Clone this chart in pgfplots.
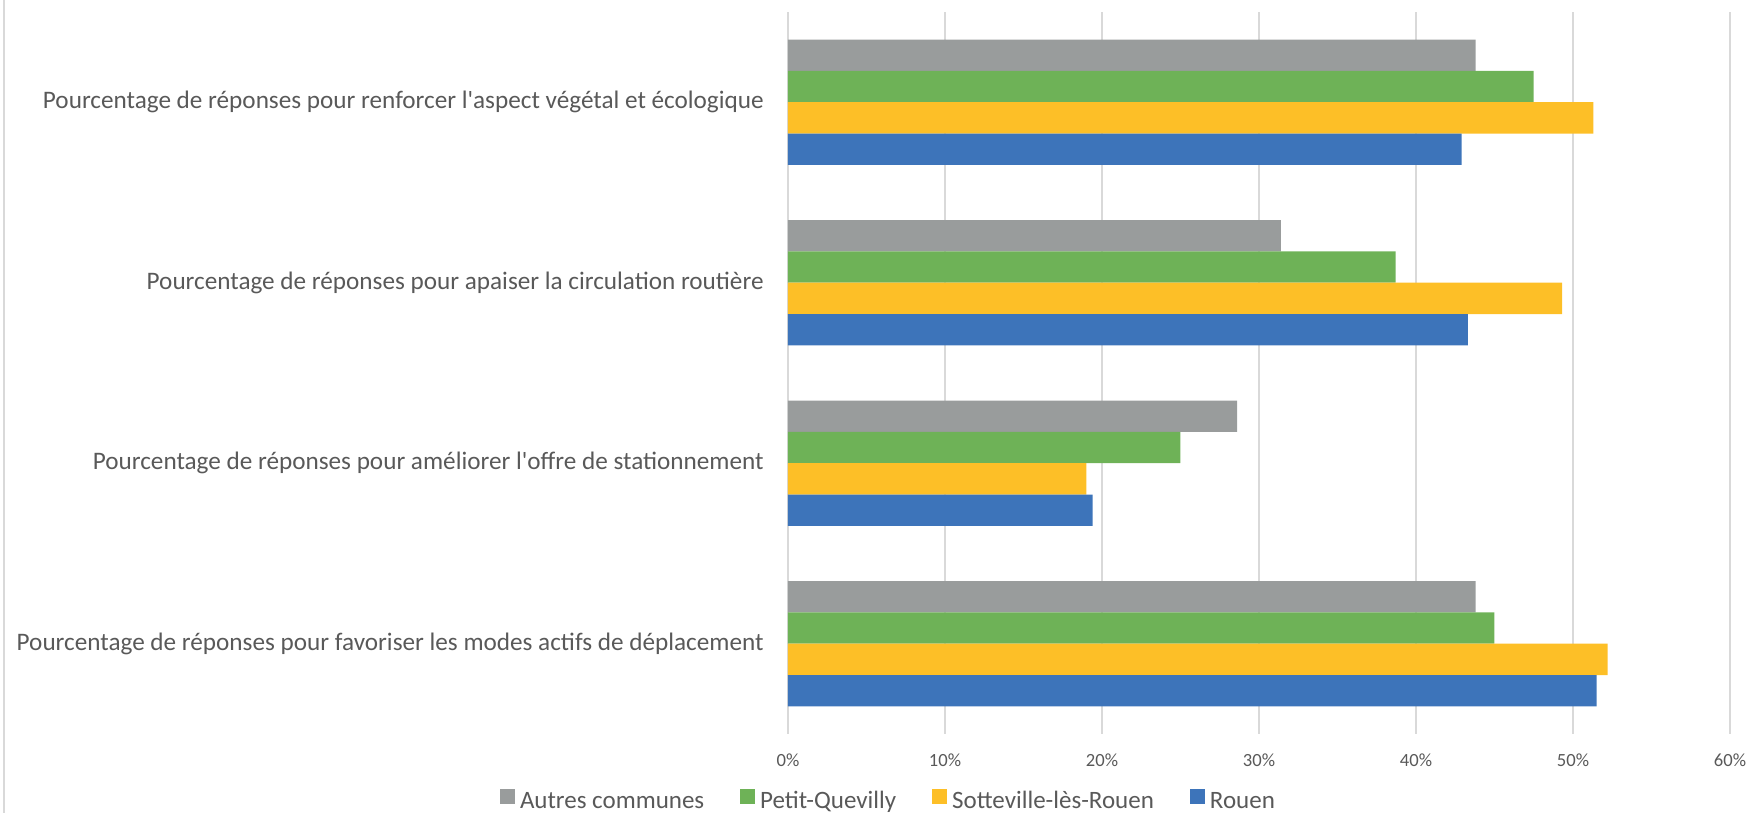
\documentclass[border=0pt]{standalone}
\usepackage{fontspec}
\setmainfont{Carlito}[Ligatures=TeXOff]
\usepackage{pgfplots}
\pgfplotsset{compat=1.18}
\definecolor{cgray}{HTML}{999C9C}
\definecolor{cgreen}{HTML}{6EB257}
\definecolor{cyellow}{HTML}{FDBF27}
\definecolor{cblue}{HTML}{3D74BA}
\definecolor{cgrid}{HTML}{D9D9D9}
\definecolor{ctext}{HTML}{595959}
\begin{document}
\begin{tikzpicture}
\begin{axis}[
  at={(394pt,39.5pt)}, anchor=south west,
  scale only axis, width=471pt, height=361pt,
  xmin=0, xmax=60, ymin=-0.5, ymax=3.5,
  xbar, bar width=0.1734,
  axis line style={draw=none},
  xtick={0,10,20,30,40,50,60},
  xticklabels={0\%,10\%,20\%,30\%,40\%,50\%,60\%},
  ytick={0,1,2,3},
  yticklabels={Pourcentage de réponses pour favoriser les modes actifs de déplacement,
               Pourcentage de réponses pour améliorer l'offre de stationnement,
               Pourcentage de réponses pour apaiser la circulation routière,
               Pourcentage de réponses pour renforcer l'aspect végétal et écologique},
  major tick length=0pt,
  xmajorgrids, grid style={cgrid, line width=0.6pt},
  x tick label style={font=\fontsize{9.3}{11}\selectfont, text=ctext, anchor=center, yshift=-13.25pt},
  y tick label style={font=\fontsize{12.6}{14}\selectfont, text=ctext, anchor=east, inner sep=0pt, xshift=-12pt},
  legend columns=4,
  legend image code/.code={\fill[#1] (0pt,-0.5pt) rectangle (7.5pt,7pt);},
  legend style={at={(-0.30573,-0.0928)}, anchor=west, draw=none, fill=none,
    inner sep=0pt, outer sep=0pt, font=\fontsize{12.5}{14}\selectfont, text=ctext,
    nodes={inner sep=0pt, text height=8.5pt, text depth=2.5pt},
    /tikz/every odd column/.append style={column sep=2.5pt},
    /tikz/every even column/.append style={column sep=18pt}},
]
\addplot[fill=cgray, draw=none, bar shift=0.26] coordinates {(43.8,0) (28.6,1) (31.4,2) (43.8,3)};
\addplot[fill=cgreen, draw=none, bar shift=0.0867] coordinates {(45.0,0) (25.0,1) (38.7,2) (47.5,3)};
\addplot[fill=cyellow, draw=none, bar shift=-0.0867] coordinates {(52.2,0) (19.0,1) (49.3,2) (51.3,3)};
\addplot[fill=cblue, draw=none, bar shift=-0.26] coordinates {(51.5,0) (19.4,1) (43.3,2) (42.9,3)};
\legend{Autres communes, Petit-Quevilly, Sotteville-lès-Rouen, Rouen}
\end{axis}
\draw[cgrid, line width=0.6pt] (2pt,0pt) -- (2pt,406.5pt);
\pgfresetboundingbox
\useasboundingbox (0pt,0pt) rectangle (873.5pt,406.5pt);
\end{tikzpicture}
\end{document}
